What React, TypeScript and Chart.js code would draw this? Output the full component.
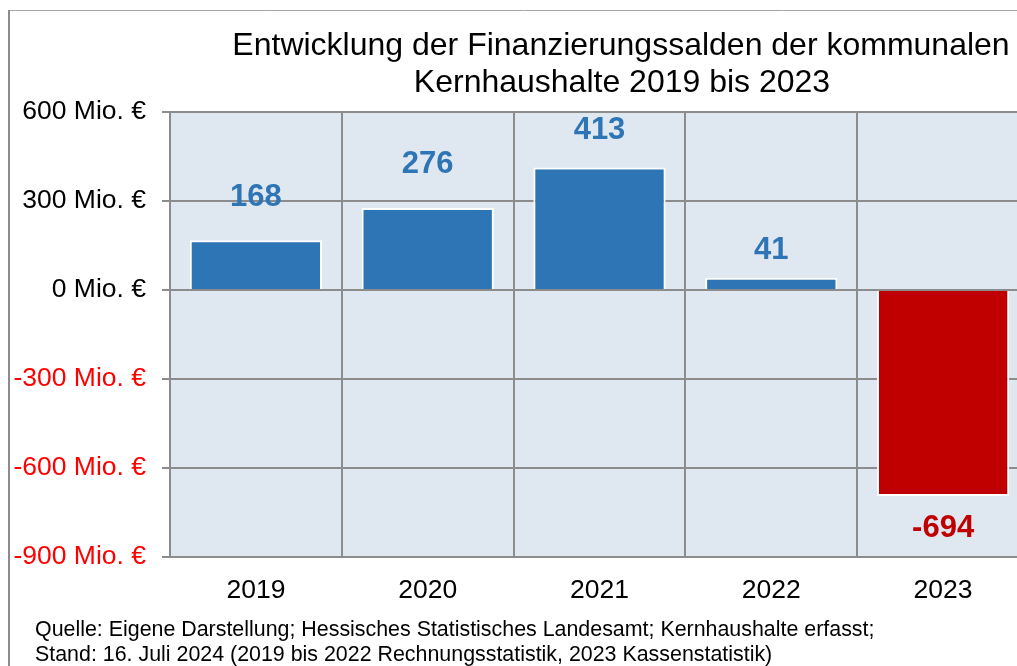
import React, { useEffect, useRef } from "react";
import { Chart, registerables } from "chart.js";

Chart.register(...registerables);

const categories = ["2019", "2020", "2021", "2022", "2023"];
const saldo = [168, 276, 413, 41, -694];
const yTicks = [-900, -600, -300, 0, 300, 600];
const titleLines = [
  "Entwicklung der Finanzierungssalden der kommunalen",
  "Kernhaushalte 2019 bis 2023",
];
const footerLines = [
  "Quelle: Eigene Darstellung; Hessisches Statistisches Landesamt; Kernhaushalte erfasst;",
  "Stand: 16. Juli 2024 (2019 bis 2022 Rechnungsstatistik, 2023 Kassenstatistik)",
];

const FONT = '"Liberation Sans", Arial, sans-serif';
const BLUE = "#2E75B6";
const RED = "#C00000";
const GRID = "#8C8C8C";
const PLOT_BG = "#DFE7F1";
const LABEL_GAPS = [43, 43.5, 37, 27.5, 33];

const decorPlugin = {
  id: "decor",
  beforeDraw(chart: any) {
    const { ctx, chartArea } = chart;
    ctx.save();
    ctx.fillStyle = "#FFFFFF";
    ctx.fillRect(0, 0, chart.width, chart.height);
    // frame
    ctx.strokeStyle = "#A6A6A6";
    ctx.lineWidth = 1;
    ctx.beginPath();
    ctx.moveTo(9, 10.5);
    ctx.lineTo(chart.width, 10.5);
    ctx.stroke();
    ctx.strokeStyle = "#8C8C8C";
    ctx.lineWidth = 2;
    ctx.beginPath();
    ctx.moveTo(9, 10);
    ctx.lineTo(9, chart.height);
    ctx.stroke();
    // plot background
    ctx.fillStyle = PLOT_BG;
    ctx.fillRect(
      chartArea.left,
      chartArea.top,
      chartArea.right - chartArea.left,
      chartArea.bottom - chartArea.top
    );
    // title
    ctx.fillStyle = "#000000";
    ctx.font = `32px ${FONT}`;
    ctx.textAlign = "center";
    ctx.textBaseline = "alphabetic";
    ctx.fillText(titleLines[0], 621, 54.5);
    ctx.fillText(titleLines[1], 622, 92);
    // footer
    ctx.font = `21.4px ${FONT}`;
    ctx.textAlign = "left";
    ctx.fillText(footerLines[0], 35, 636);
    ctx.fillText(footerLines[1], 35, 661);
    ctx.restore();
  },
  afterDatasetsDraw(chart: any) {
    const { ctx, chartArea } = chart;
    const y = chart.scales.y;
    const y0 = y.getPixelForValue(0);
    ctx.save();
    ctx.strokeStyle = GRID;
    ctx.lineWidth = 2;
    ctx.beginPath();
    ctx.moveTo(chartArea.left - 8, y0);
    ctx.lineTo(chartArea.right, y0);
    ctx.stroke();
    // data labels
    const meta = chart.getDatasetMeta(0);
    ctx.font = `bold 31px ${FONT}`;
    ctx.textAlign = "center";
    ctx.textBaseline = "middle";
    meta.data.forEach((bar: any, i: number) => {
      const v = saldo[i];
      const gap = LABEL_GAPS[i];
      ctx.fillStyle = v < 0 ? RED : BLUE;
      const ly = v < 0 ? bar.y + gap : bar.y - gap;
      ctx.fillText(String(v), bar.x, ly);
    });
    ctx.restore();
  },
};

export default function App() {
  const ref = useRef<HTMLCanvasElement | null>(null);

  useEffect(() => {
    document.body.style.margin = "0";
    document.body.style.overflow = "hidden";
    if (!ref.current) return;
    const chart = new Chart(ref.current, {
      type: "bar",
      data: {
        labels: categories,
        datasets: [
          {
            data: saldo,
            backgroundColor: saldo.map((v) => (v < 0 ? RED : BLUE)),
            borderColor: "#FFFFFF",
            borderWidth: 2,
            borderSkipped: "start",
            barPercentage: 0.77,
            categoryPercentage: 1,
          },
        ],
      },
      options: {
        responsive: false,
        animation: false,
        devicePixelRatio: 1,
        layout: { padding: { top: 112, right: 11, left: 0, bottom: 0 } },
        plugins: {
          legend: { display: false },
          title: { display: false },
          tooltip: { enabled: false },
        },
        scales: {
          x: {
            offset: true,
            grid: {
              offset: true,
              color: GRID,
              lineWidth: 2,
              drawTicks: false,
            },
            border: { display: true, color: GRID, width: 2 },
            ticks: {
              color: "#000000",
              font: { family: FONT, size: 26.5 },
              padding: 18,
            },
            afterFit(scale: any) {
              scale.height = 109;
            },
          },
          y: {
            min: -900,
            max: 600,
            afterBuildTicks(scale: any) {
              scale.ticks = yTicks.map((v) => ({ value: v }));
            },
            grid: {
              color: GRID,
              lineWidth: 2,
              tickLength: 8,
            },
            border: { display: true, color: GRID, width: 2 },
            ticks: {
              padding: 16,
              font: { family: FONT, size: 26.5 },
              color: (c: any) => (c.tick && c.tick.value < 0 ? "#FF0000" : "#000000"),
              callback: (v: any) => `${v} Mio. €`,
            },
            afterFit(scale: any) {
              scale.width = 170;
            },
          },
        },
      },
      plugins: [decorPlugin],
    });
    return () => chart.destroy();
  }, []);

  return (
    <div
      style={{
        position: "absolute",
        left: 0,
        top: 0,
        width: 1017,
        height: 666,
        overflow: "hidden",
        background: "#fff",
      }}
    >
      <canvas ref={ref} width={1040} height={666} style={{ width: 1040, height: 666, display: "block" }} />
    </div>
  );
}
